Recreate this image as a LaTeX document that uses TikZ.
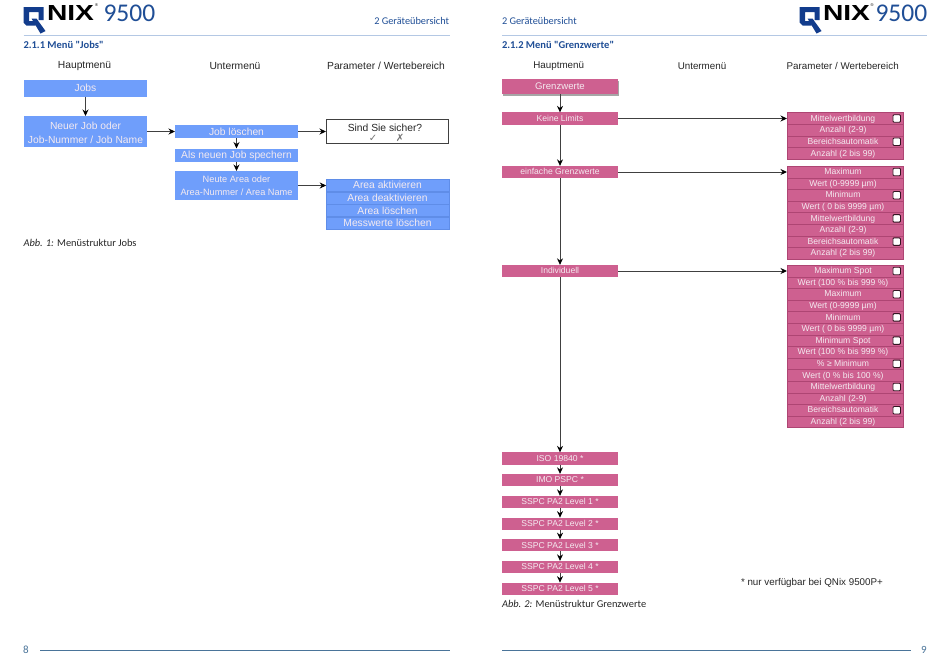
\documentclass[tikz,border=0pt]{standalone}
\usepackage{graphicx}
\usepackage{fontspec}
\setmainfont{Liberation Sans}
\newfontfamily\pagefont{Carlito}
\newfontfamily\symfont{DejaVu Sans}
\usetikzlibrary{arrows.meta,shadows}
\definecolor{qblue}{HTML}{6F9EFB}
\definecolor{qbluedark}{HTML}{5F8DE8}
\definecolor{qpink}{HTML}{CE6090}
\definecolor{qpinkdark}{HTML}{AE4573}
\definecolor{navy}{HTML}{1F4E96}
\definecolor{rulelight}{HTML}{B4C8E4}
\definecolor{ruledark}{HTML}{4A7499}
\definecolor{boxtext}{HTML}{F4EAF0}
\definecolor{logoblue}{HTML}{123C8C}
\tikzset{
  x=1pt,y=-1pt,
  every node/.style={inner sep=0pt,outer sep=0pt},
  head/.style={font=\fontsize{10.3}{12}\selectfont,text=black!85},
  headr/.style={font=\fontsize{9.8}{12}\selectfont,text=black!85},
  pagetext/.style={font=\pagefont\fontsize{10.3}{11}\selectfont,text=navy,anchor=base west},
  secttl/.style={font=\pagefont\bfseries\fontsize{10.5}{11}\selectfont,text=navy,anchor=base west},
  capt/.style={font=\pagefont\fontsize{10.4}{11}\selectfont,text=black!85,anchor=base west},
  bbox/.style={fill=qblue,text=boxtext,align=center,minimum width=123pt,font=\fontsize{10.3}{14.5}\selectfont},
  bone/.style={bbox,text height=8pt,text depth=1pt},
  brow/.style={bone,draw=qbluedark,line width=.4pt,minimum width=122.6pt,minimum height=12pt},
  pbox/.style={fill=qpink,text=boxtext,align=center,minimum width=116pt,minimum height=12.3pt,font=\fontsize{8.6}{10}\selectfont,text height=6.5pt,text depth=1pt},
  prow/.style={pbox,draw=qpinkdark,line width=.5pt,minimum width=116pt,minimum height=11.6pt},
  chk/.style={draw=black!70!qpinkdark,fill=white,rounded corners=1pt,line width=.9pt,minimum width=7.5pt,minimum height=7.5pt},
  flow/.style={draw=black!75,line width=1pt,-{Stealth[length=6.5pt,width=6pt,color=black]}},
  pagerule/.style={line width=.7pt}
}
\newcommand{\qlogo}[2]{% x, y (top left of Q)
  \fill[logoblue] (#1,#2) -- ++(20,0) -- ++(0,13) -- ++(-5,0) -- ++(0,-8) -- ++(-9.5,0) -- ++(0,9) -- ++(6.5,0) -- ++(0,4.5) -- ++(-9,0) -- ++(-3,-3) -- cycle;
  \fill[logoblue] (#1+8,#2+11.5) -- ++(5,0) -- ++(9,12.5) -- ++(-5,2.5) -- cycle;
}
\begin{document}
\begin{tikzpicture}
\useasboundingbox (0,0) rectangle (950,670);
\fill[white] (0,0) rectangle (950,670);

% ---------- left page furniture
\qlogo{23.5}{7}
\node[anchor=west] (lnix) at (47,12.7) {\resizebox{47pt}{15pt}{\bfseries NIX}};
\node (lreg) at (96.5,5) {\fontsize{4}{4}\selectfont ®};
\node[anchor=west,text=navy,font=\pagefont\fontsize{25.5}{28}\selectfont] (l9500) at (103.5,13) {9500};
\node[pagetext,anchor=base east] (lchap) at (449,24) {2 Geräteübersicht};
\coordinate (lr1) at (23.5,35.5); \coordinate (lr2) at (449.5,35.5);
\draw[rulelight,pagerule] (lr1) -- (lr2);
\node[secttl] (lsec) at (23.5,48.5) {2.1.1 Menü "Jobs"};
\node[head] (lh1) at (84.5,66) {Hauptmenü};
\node[head] (lh2) at (235,66) {Untermenü};
\node[head] (lh3) at (386,66) {Parameter / Wertebereich};

% ---------- Jobs diagram
\node[bone,minimum height=16.5pt] (jobs) at (85.5,88.3) {Jobs};
\node[bbox,minimum height=31pt] (neuer) at (85.5,131.5) {\rule{0pt}{10pt}Neuer Job oder\\Job-Nummer / Job Name};
\node[bone,minimum height=13pt] (jl) at (236.5,131.5) {Job löschen};
\node[bone,minimum height=13pt] (als) at (236.5,155) {Als neuen Job spechern};
\node[bbox,minimum height=29pt,font=\fontsize{9.2}{13}\selectfont] (area) at (236.5,185.5) {Neute Area oder\\Area-Nummer / Area Name};
\node[draw=black!75,fill=white,line width=.9pt,minimum width=122pt,minimum height=24pt] (sind) at (387,131.5) {};
\node[font=\fontsize{10.3}{12}\selectfont,text=black!85] (sindt) at (385,127.5) {Sind Sie sicher?};
\node[font=\symfont\fontsize{10}{11}\selectfont,text=black!55] (yes) at (373,138) {✓};
\node[font=\symfont\fontsize{10}{11}\selectfont,text=black!55] (no) at (400,138) {✗};
\node[brow] (a1) at (387.5,185.2) {Area aktivieren};
\node[brow] (a2) at (387.5,198) {Area deaktivieren};
\node[brow] (a3) at (387.5,210.5) {Area löschen};
\node[brow] (a4) at (387.5,222.8) {Messwerte löschen};
\draw[flow] (jobs) -- (neuer);
\draw[flow] (neuer) -- (jl);
\draw[flow] (jl) -- (sind);
\draw[flow] (jl) -- (als);
\draw[flow] (als) -- (area);
\draw[flow] (area) -- (a1.west |- area.east);
\node[capt] (lcap) at (23.5,246.5) {\textit{Abb. 1:} Menüstruktur Jobs};

% ---------- right page furniture
\qlogo{799.5}{7}
\node[anchor=west] (rnix) at (823,12.7) {\resizebox{47pt}{15pt}{\bfseries NIX}};
\node (rreg) at (872,5) {\fontsize{4}{4}\selectfont ®};
\node[anchor=west,text=navy,font=\pagefont\fontsize{25.5}{28}\selectfont] (r9500) at (875.5,13) {9500};
\node[pagetext] (rchap) at (502,24) {2 Geräteübersicht};
\coordinate (rr1) at (502,35.5); \coordinate (rr2) at (927,35.5);
\draw[rulelight,pagerule] (rr1) -- (rr2);
\node[secttl] (rsec) at (502,48.5) {2.1.2 Menü "Grenzwerte"};
\node[headr] (rh1) at (558.7,66) {Hauptmenü};
\node[headr] (rh2) at (702,66) {Untermenü};
\node[headr] (rh3) at (842.7,66) {Parameter / Wertebereich};

% ---------- Grenzwerte, main column
\node[pbox,minimum height=15pt,font=\fontsize{9.6}{11}\selectfont,text height=7pt,drop shadow={shadow xshift=1pt,shadow yshift=-1.5pt,fill=black,opacity=.35}] (g0) at (560,86.5) {Grenzwerte};
\node[pbox] (g1) at (560,118.5) {Keine Limits};
\node[pbox] (g2) at (560,172) {einfache Grenzwerte};
\node[pbox] (g3) at (560,271) {Individuell};
\node[pbox] (g4) at (560,458.5) {ISO 19840 *};
\node[pbox] (g5) at (560,480) {IMO PSPC *};
\node[pbox] (g6) at (560,502) {SSPC PA2 Level 1 *};
\node[pbox] (g7) at (560,523.8) {SSPC PA2 Level 2 *};
\node[pbox] (g8) at (560,545.3) {SSPC PA2 Level 3 *};
\node[pbox] (g9) at (560,567) {SSPC PA2 Level 4 *};
\node[pbox] (g10) at (560,588.8) {SSPC PA2 Level 5 *};

% ---------- parameter blocks
\foreach \t [count=\i from 0] in {Mittelwertbildung,Anzahl (2-9),Bereichsautomatik,Anzahl (2 bis 99)}
  \node[prow] (pa\i) at (845,{118.5+11.6*\i}) {\t\hspace*{4pt}};
\foreach \t [count=\i from 0] in {Maximum,Wert (0-9999 µm),Minimum,Wert ( 0 bis 9999 µm),Mittelwertbildung,Anzahl (2-9),Bereichsautomatik,Anzahl (2 bis 99)}
  \node[prow] (pb\i) at (845,{172+11.6*\i}) {\t\hspace*{4pt}};
\foreach \t [count=\i from 0] in {Maximum Spot,Wert (100 \% bis 999 \%),Maximum,Wert (0-9999 µm),Minimum,Wert ( 0 bis 9999 µm),Minimum Spot,Wert (100 \% bis 999 \%),\% ≥ Minimum,Wert (0 \% bis 100 \%),Mittelwertbildung,Anzahl (2-9),Bereichsautomatik,Anzahl (2 bis 99)}
  \node[prow] (pc\i) at (845,{271+11.6*\i}) {\t\hspace*{4pt}};
\foreach \k in {0,2} \node[chk] (ca\k) at ([xshift=51.7pt]pa\k.center) {};
\foreach \k in {0,2,4,6} \node[chk] (cb\k) at ([xshift=51.7pt]pb\k.center) {};
\foreach \k in {0,2,4,6,8,10,12} \node[chk] (cc\k) at ([xshift=51.7pt]pc\k.center) {};

% ---------- connectors
\foreach \a/\b in {g0/g1,g1/g2,g2/g3,g3/g4,g4/g5,g5/g6,g6/g7,g7/g8,g8/g9,g9/g10}
  \draw[flow] (\a) -- (\b);
\draw[flow] (g1) -- (pa0);
\draw[flow] (g2) -- (pb0);
\draw[flow] (g3) -- (pc0);

% ---------- bottom
\node[font=\fontsize{9.8}{11}\selectfont,text=black!85,anchor=base west] (note) at (741,585.5) {* nur verfügbar bei QNix 9500P+};
\node[capt] (rcap) at (502,607.5) {\textit{Abb. 2:} Menüstruktur Grenzwerte};
\node[pagetext,font=\pagefont\fontsize{11}{12}\selectfont,anchor=center,text=ruledark] (pl) at (26,650) {8};
\node[pagetext,font=\pagefont\fontsize{11}{12}\selectfont,anchor=center,text=ruledark] (pr) at (924,650) {9};
\coordinate (fl1) at (40,650.5); \coordinate (fl2) at (449.5,650.5);
\coordinate (fr1) at (502,650.5); \coordinate (fr2) at (911,650.5);
\draw[ruledark,pagerule] (fl1) -- (fl2);
\draw[ruledark,pagerule] (fr1) -- (fr2);
\end{tikzpicture}
\end{document}
